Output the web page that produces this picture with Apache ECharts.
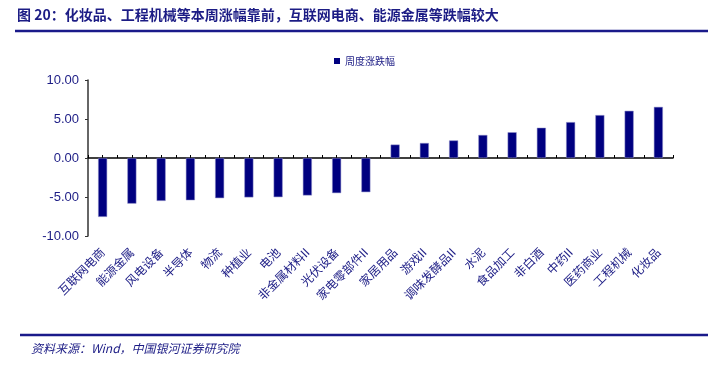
<!DOCTYPE html>
<html>
<head>
<meta charset="utf-8">
<script src="https://cdn.jsdelivr.net/npm/echarts@6/dist/echarts.min.js"></script>
<style>
  html, body { margin: 0; padding: 0; background: #fff; }
  #chart { width: 713px; height: 376px; }
</style>
</head>
<body>
<div id="chart"></div>
<script>
var categories = ['互联网电商', '能源金属', '风电设备', '半导体', '物流', '种植业', '电池',
    '非金属材料II', '光伏设备', '家电零部件II', '家居用品', '游戏II', '调味发酵品II', '水泥',
    '食品加工', '非白酒', '中药II', '医药商业', '工程机械', '化妆品'];
var weekChange = [-7.55, -5.85, -5.5, -5.42, -5.15, -5.05, -5.02, -4.8, -4.5, -4.38,
    1.72, 1.92, 2.25, 2.95, 3.3, 3.88, 4.6, 5.5, 6.05, 6.55];
var seriesName = '周度涨跌幅';
var titleText = '图 20：化妆品、工程机械等本周涨幅靠前，互联网电商、能源金属等跌幅较大';
var sourceText = '资料来源：Wind，中国银河证券研究院';

var navy = '#000080';
var textBlue = '#1c1c85';

// half-step ticks along the zero line
var halfSteps = [];
for (var i = 0; i < categories.length * 2; i++) {
    halfSteps.push('');
}

var chart = echarts.init(document.getElementById('chart'));

var option = {
    animation: false,
    textStyle: { fontFamily: '"Noto Sans CJK SC", sans-serif' },
    legend: {
        data: [seriesName],
        left: 329,
        top: 51,
        itemWidth: 6,
        itemHeight: 6,
        itemGap: 4,
        icon: 'rect',
        itemStyle: { borderWidth: 0 },
        textStyle: { fontSize: 10, color: textBlue }
    },
    grid: {
        left: 88,
        right: 40,
        top: 80,
        bottom: 140
    },
    xAxis: [
        {
            type: 'category',
            data: categories,
            position: 'bottom',
            axisLine: { show: false, onZero: false },
            axisTick: { show: false },
            axisLabel: {
                interval: 0,
                rotate: 45,
                margin: 14,
                fontSize: 12,
                color: textBlue
            }
        },
        {
            type: 'category',
            data: halfSteps,
            position: 'bottom',
            axisLine: { show: true, onZero: true, lineStyle: { color: '#000', width: 1.5 } },
            axisTick: { show: true, inside: true, length: 3, interval: 0, lineStyle: { color: '#000' } },
            axisLabel: { show: false }
        }
    ],
    yAxis: {
        type: 'value',
        min: -10,
        max: 10,
        interval: 5,
        splitLine: { show: false },
        axisLine: { show: true, lineStyle: { color: '#333', width: 1.5 } },
        axisTick: { show: true, length: 3, lineStyle: { color: '#333' } },
        axisLabel: {
            margin: 9,
            fontSize: 13,
            fontFamily: '"Liberation Sans", Arial, sans-serif',
            color: textBlue,
            formatter: function (v) { return v.toFixed(2); }
        }
    },
    series: [
        {
            name: seriesName,
            type: 'bar',
            xAxisIndex: 0,
            data: weekChange,
            barWidth: 9,
            itemStyle: { color: navy, borderColor: '#8c8cc8', borderWidth: 0.5 }
        }
    ],
    graphic: [
        {
            type: 'text',
            left: 17,
            top: 8,
            style: {
                text: titleText,
                fontSize: 14,
                fontWeight: 'bold',
                fontFamily: '"Noto Sans CJK SC", sans-serif',
                fill: textBlue
            }
        },
        {
            type: 'line',
            shape: { x1: 15, y1: 31, x2: 708, y2: 31 },
            style: { stroke: '#1a1a8a', lineWidth: 2.5 }
        },
        {
            type: 'line',
            shape: { x1: 20, y1: 335, x2: 708, y2: 335 },
            style: { stroke: '#1a1a8a', lineWidth: 2.5 }
        },
        {
            type: 'text',
            left: 31,
            top: 342,
            style: {
                text: sourceText,
                fontSize: 12,
                fontStyle: 'italic',
                fontFamily: '"Noto Sans CJK SC", sans-serif',
                fill: textBlue
            }
        }
    ]
};

chart.setOption(option);
</script>
</body>
</html>
